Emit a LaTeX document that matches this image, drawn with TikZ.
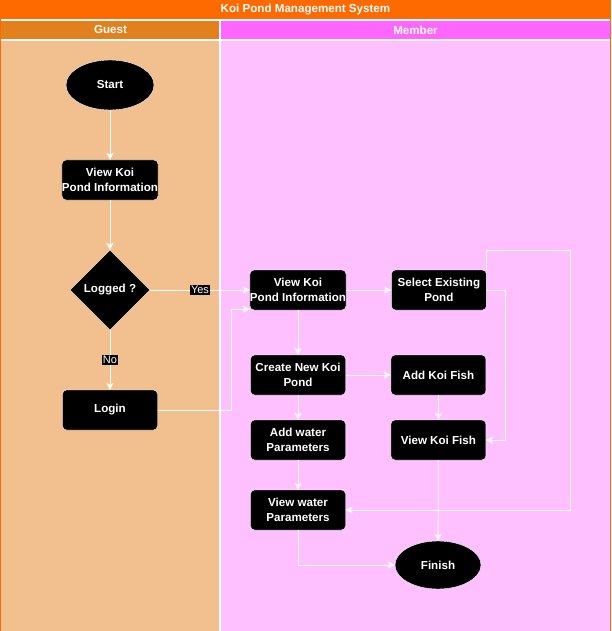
\documentclass[tikz,border=0pt]{standalone}
\usepackage{fontspec}
\setmainfont{Liberation Sans}
\usepackage{xcolor}
\usetikzlibrary{positioning,shapes.geometric,calc,arrows.meta}
\definecolor{titleorange}{HTML}{FF6A00}
\definecolor{guesthead}{HTML}{E1801C}
\definecolor{guestbody}{HTML}{F2C08F}
\definecolor{memberhead}{HTML}{FF66FF}
\definecolor{memberbody}{HTML}{FFC0FF}
\tikzset{
  basic/.style  = {draw=white, thin, fill=black, text=white, font=\fontsize{11.6}{14.5}\selectfont\bfseries,
                   align=center, inner sep=0pt},
  stepbox/.style = {basic, rectangle, rounded corners=4pt, minimum width=95pt, minimum height=40pt},
  terminal/.style = {basic, ellipse, minimum width=88pt, minimum height=50pt},
  decision/.style = {basic, diamond, minimum width=80pt, minimum height=80pt},
  lane/.style = {text=white, font=\fontsize{11.6}{14}\selectfont\bfseries},
  flow/.style = {->, draw=white, line width=0.8pt},
  answer/.style = {fill=black, text=white, inner sep=1pt, font=\fontsize{11}{13}\selectfont}
}
\begin{document}
\begin{tikzpicture}[x=1pt, y=-1pt, >={Stealth[length=7pt,width=7pt,inset=2pt]}]
        \useasboundingbox (0,0) rectangle (611,631);
        % pool and lanes
        \fill[titleorange] (0,0) rectangle (611,631);
        \fill[guesthead] (1,20) rectangle (220,40);
        \fill[memberhead] (220,20) rectangle (610,40);
        \fill[guestbody] (1,40) rectangle (220,631);
        \fill[memberbody] (220,40) rectangle (610,631);
        \draw[white, line width=1.2pt] (1,20) -- (610,20) (1,40) -- (610,40) (220,20) -- (220,631);
        \node[lane] (title) at (305.5,10) {Koi Pond Management System};
        \node[lane] (guest) at (110.5,30) {Guest};
        \node[lane] (member) at (415.5,30) {Member};
        % guest lane
        \node[terminal] (start) at (110,85) {Start};
        \node[stepbox] (gview) at (110,180) {View Koi\\Pond Information};
        \node[decision] (logged) at (110,290) {Logged ?};
        \node[stepbox] (login) at (110,410) {Login};
        % member lane
        \node[stepbox] (mview) at (298,290) {View Koi\\Pond Information};
        \node[stepbox, right=45pt of mview] (select) {Select Existing\\Pond};
        \node[stepbox] (create) at (298,375) {Create New Koi\\Pond};
        \node[stepbox, right=45pt of create] (addfish) {Add Koi Fish};
        \node[stepbox] (addwater) at (298,440) {Add water\\Parameters};
        \node[stepbox, right=45pt of addwater] (viewfish) {View Koi Fish};
        \node[stepbox] (viewwater) at (298,510) {View water\\Parameters};
        \node[terminal, minimum width=86pt, minimum height=48pt] (finish) at (438,565) {Finish};
        \coordinate (loop) at (570,250);
        \coordinate (bend) at (231,410);
        % connectors
        \draw[flow] (start) -- (gview);
        \draw[flow] (gview) -- (logged);
        \draw[flow] (logged) -- node[answer] {Yes} (mview);
        \draw[flow] (logged) -- node[answer] {No} (login);
        \draw[flow] (login) -- (bend) |- ([yshift=1pt]mview.south west);
        \draw[flow] (mview) -- (select);
        \draw[flow] (mview) -- (create);
        \draw[flow] (select.east) -- ++(19,0) |- (viewfish.east);
        \draw[flow] (select.north east) |- (loop) |- (viewwater.east);
        \draw[flow] (create) -- (addfish);
        \draw[flow] (create) -- (addwater);
        \draw[flow] (addfish) -- (viewfish);
        \draw[flow] (addwater) -- (viewwater);
        \draw[flow] (viewfish) -- (finish);
        \draw[flow] (viewwater) |- (finish);
      \end{tikzpicture}
\end{document}
